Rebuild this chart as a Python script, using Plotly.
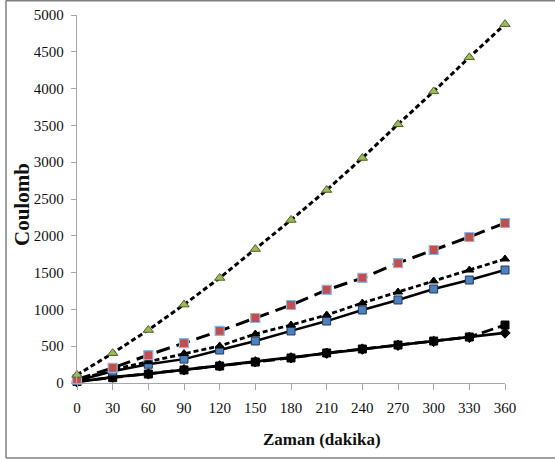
import plotly.graph_objects as go

time_min = [0, 30, 60, 90, 120, 150, 180, 210, 240, 270, 300, 330, 360]

green_tri = [110, 405, 720, 1065, 1427, 1820, 2215, 2622, 3057, 3515, 3962, 4425, 4875]
red_sq = [50, 205, 380, 543, 707, 883, 1060, 1264, 1427, 1630, 1807, 1984, 2174]
black_tri = [40, 180, 290, 400, 503, 666, 788, 924, 1087, 1236, 1386, 1535, 1685]
blue_sq = [30, 160, 255, 325, 448, 571, 707, 842, 992, 1128, 1277, 1399, 1535]
black_sq = [20, 72, 122, 177, 231, 285, 340, 408, 462, 516, 570, 625, 788]
black_dia = [15, 80, 125, 180, 233, 288, 342, 405, 460, 512, 565, 620, 680]

y_ticks = [0, 500, 1000, 1500, 2000, 2500, 3000, 3500, 4000, 4500, 5000]
x_ticks = time_min

W, H = 555, 461
L, R, T, B = 77, 50, 15, 78
SERIF = "Liberation Serif, Times New Roman, serif"

fig = go.Figure()

def add(y, dash, width, symbol, size, fill, edge, edgew=1):
    fig.add_trace(go.Scatter(
        x=time_min, y=y, mode="lines+markers",
        line=dict(color="black", width=width, dash=dash),
        marker=dict(symbol=symbol, size=size, color=fill,
                    line=dict(color=edge, width=edgew)),
        showlegend=False, cliponaxis=False, hoverinfo="skip"))

add(black_dia, "solid", 2.8, "diamond", 8, "black", "black")
add(black_sq, "12px,5px", 2.8, "square", 8, "black", "black")
add(blue_sq, "solid", 2.4, "square", 8, "#4F81BD", "#1F3A5F")
add(black_tri, "5px,3px", 2.8, "triangle-up", 8, "black", "black")
add(red_sq, "14px,7px", 3, "square", 9, "#C0504D", "#8EB4E3", 1.2)
add(green_tri, "5px,3px", 3, "triangle-up", 9, "#9BBB59", "#4F6228")

pw = W - L - R
ph = H - T - B

def px(x):
    return (x - L) / pw

def py(y):
    return (T + ph - y) / ph

fig.update_layout(
    width=W, height=H,
    margin=dict(l=L, r=R, t=T, b=B, pad=0, autoexpand=False),
    paper_bgcolor="white", plot_bgcolor="white",
    font=dict(family=SERIF, color="#111111", size=15),
    xaxis=dict(range=[0, 360], tickvals=x_ticks, ticktext=[str(v) for v in x_ticks],
               showgrid=False, zeroline=False, showline=True, linecolor="#A6A6A6",
               linewidth=1.2, ticks="outside", ticklen=6, tickcolor="#A6A6A6",
               tickfont=dict(family=SERIF, size=15, color="#111111"),
               ticklabelstandoff=5),
    yaxis=dict(range=[0, 5000], tickvals=y_ticks, ticktext=[str(v) for v in y_ticks],
               showgrid=False, zeroline=False, showline=True, linecolor="#A6A6A6",
               linewidth=1.2, ticks="outside", ticklen=5, tickcolor="#A6A6A6",
               tickfont=dict(family=SERIF, size=15, color="#111111"),
               ticklabelstandoff=4),
    shapes=[
        dict(type="line", xref="paper", yref="paper",
             x0=px(6), x1=px(6), y0=py(458), y1=py(0.5),
             line=dict(color="#808080", width=1.5)),
        dict(type="line", xref="paper", yref="paper",
             x0=px(6), x1=px(560), y0=py(458), y1=py(458),
             line=dict(color="#808080", width=1.5)),
        dict(type="line", xref="paper", yref="paper",
             x0=px(6), x1=px(560), y0=py(0.8), y1=py(0.8),
             line=dict(color="#808080", width=1.5)),
    ],
    annotations=[
        dict(text="<b>Zaman (dakika)</b>", xref="paper", yref="paper",
             x=px(322), y=py(439), xanchor="center", yanchor="middle",
             showarrow=False, font=dict(family=SERIF, size=17, color="#111111")),
        dict(text="<b>Coulomb</b>", xref="paper", yref="paper", textangle=-90,
             x=px(22), y=py(205), xanchor="center", yanchor="middle",
             showarrow=False, font=dict(family=SERIF, size=21, color="#111111")),
    ],
)

fig.write_html("out.html", config={"displayModeBar": False, "staticPlot": True},
               post_script="document.body.style.margin='0px';document.body.style.overflow='hidden';")
